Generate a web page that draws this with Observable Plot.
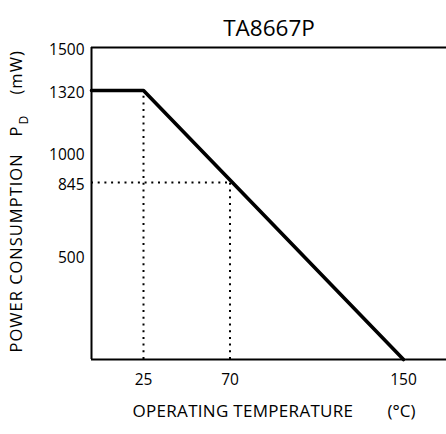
<!DOCTYPE html>
<html><head><meta charset="utf-8">
<script src="https://cdn.jsdelivr.net/npm/d3@7"></script>
<script src="https://cdn.jsdelivr.net/npm/@observablehq/plot@0.6"></script>
<style>body{margin:0;background:#fff} svg{display:block}</style>
</head><body><div id="chart"></div>
<script>
// ---- data ----
const title = "TA8667P";
const xLabel = "OPERATING TEMPERATURE";
const xUnit = "(°C)";
const yLabel = "POWER CONSUMPTION";
const ySymbol = "P";
const ySub = "D";
const yUnit = "(mW)";
const xTicks = [25, 70, 150];
const yTicks = [1500, 1320, 1000, 845, 500];
const curveTemp = [0, 25, 150];
const curvePower = [1320, 1320, 0];
const guideTemp = [25, 70];
const guidePower = [1320, 845];
const frameTemp = [0];
const framePower = [0, 1500];

const curve = curveTemp.map((t, i) => ({t, p: curvePower[i]}));
const guides = guideTemp.map((t, i) => ({t, p: guidePower[i]}));

// the drawing is schematic: its axes are not evenly spaced, so map through piecewise scales
const xMap = d3.scaleLinear().domain([0, 25, 70, 150, 175]).range([91, 143, 229.5, 403, 446]);
const yMap = d3.scaleLinear().domain([0, 845, 1320, 1500]).range([359, 182, 90, 47]);

const dots = {strokeDasharray: "2,4.7", strokeWidth: 2};
const yl = {frameAnchor: "bottom-left", rotate: -90, textAnchor: "start", fontSize: 16.5};

const chart = Plot.plot({
  width: 446, height: 434,
  marginLeft: 91, marginRight: 0, marginTop: 47, marginBottom: 75,
  style: {fontFamily: "'Open Sans', sans-serif", fontSize: "15px", color: "#000", background: "#fff"},
  x: {transform: xMap, domain: [91, 446], axis: null},
  y: {transform: yMap, domain: [359, 47], axis: null},
  marks: [
    Plot.ruleY(framePower, {strokeWidth: 2}),
    Plot.ruleX(frameTemp, {strokeWidth: 2}),
    Plot.ruleX(guides, {x: "t", y1: 0, y2: "p", ...dots}),
    Plot.ruleY(guides.slice(1), {y: "p", x1: 0, x2: "t", ...dots}),
    Plot.line(curve, {x: "t", y: "p", strokeWidth: 3.6}),
    Plot.text(yTicks, {y: d => d, text: d => String(d), frameAnchor: "left", textAnchor: "end", dx: -7, dy: 3, fontSize: 15.5}),
    Plot.text(xTicks, {x: d => d, text: d => String(d), frameAnchor: "bottom", lineAnchor: "top", dy: 14, fontSize: 15.5}),
    Plot.text([title], {frameAnchor: "top", dy: -27.5, fontSize: 22.5}),
    Plot.text([xLabel], {frameAnchor: "bottom-left", textAnchor: "start", dx: 41, dy: 57.5, fontSize: 17}),
    Plot.text([xUnit], {frameAnchor: "bottom-left", textAnchor: "start", dx: 296, dy: 57.5, fontSize: 17}),
    Plot.text([yLabel], {...yl, dx: -70, dy: -7}),
    Plot.text([ySymbol], {...yl, dx: -70, dy: -223}),
    Plot.text([ySub], {...yl, dx: -64, dy: -235, fontSize: 12}),
    Plot.text([yUnit], {...yl, dx: -70, dy: -265})
  ]
});
const root = d3.select(chart);
root.selectAll("text").filter(function () { return [yLabel, ySymbol, yUnit].includes(this.textContent); })
  .attr("letter-spacing", "1px");
root.selectAll("text").filter(function () { return this.textContent === xLabel; })
  .attr("letter-spacing", "0.3px");
document.getElementById("chart").append(chart);
</script>
</body></html>
